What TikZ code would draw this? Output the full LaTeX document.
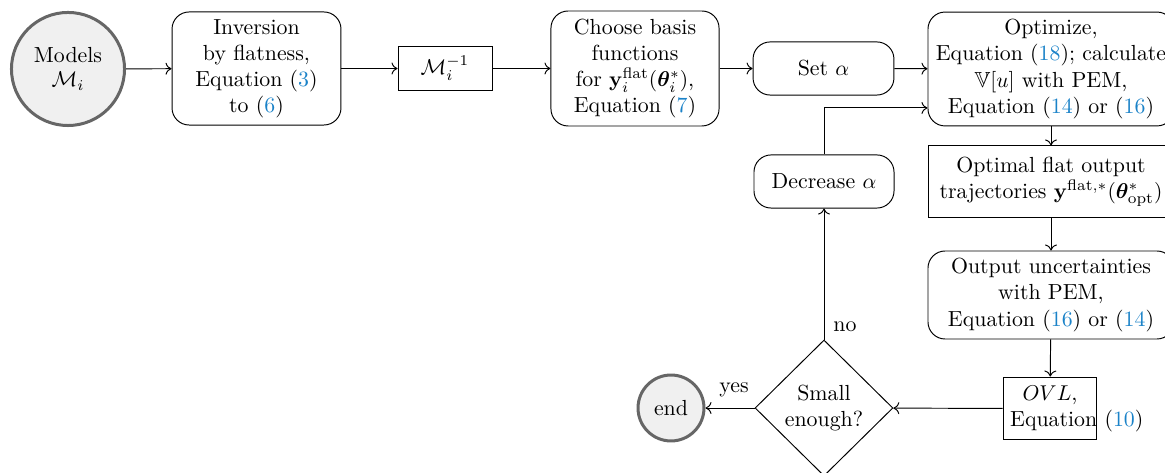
\documentclass[tikz,border=0pt]{standalone}
\usepackage{amsmath,amssymb,bm}
\usetikzlibrary{shapes.geometric,calc,arrows.meta}
\definecolor{refblue}{HTML}{1A82C8}
\newcommand{\rf}[1]{\textcolor{refblue}{#1}}
\tikzset{
  every node/.style={font=\fontsize{10.2}{12.2}\selectfont},
  endpoint/.style={circle,draw=black!60,line width=1.4pt,fill=black!6,inner sep=0pt,align=center},
  roundbox/.style={draw,line width=0.45pt,rounded corners=8pt,align=center,inner sep=2pt},
  sqbox/.style={draw,line width=0.45pt,align=center,inner sep=2pt},
  decision/.style={diamond,draw,line width=0.45pt,align=center,inner sep=0pt},
  flow/.style={line width=0.45pt,-{To[length=2.8pt,width=5.6pt]}},
  lbl/.style={inner sep=0pt,anchor=base}
}
\begin{document}
\begin{tikzpicture}[x=0.467pt,y=-0.467pt]
\useasboundingbox (0,0) rectangle (1165,473);
\clip (0,0) rectangle (1165,473);
\node[endpoint,minimum size=52.8pt] (models) at (68,69) {Models\\[-1pt]$\mathcal{M}_i$};
\node[roundbox,minimum width=78.9pt,minimum height=52.8pt] (inv) at (256.5,68.5)
  {Inversion\\by flatness,\\Equation~(\rf{3})\\to (\rf{6})};
\node[sqbox,minimum width=43.9pt,minimum height=21pt] (minv) at (445,68.5) {$\mathcal{M}_i^{-1}$};
\node[roundbox,minimum width=78.5pt,minimum height=53.7pt] (basis) at (635,68.5)
  {Choose basis\\functions\\for $\mathbf{y}_i^{\text{flat}}(\bm{\theta}_i^*)$,\\Equation~(\rf{7})};
\node[roundbox,minimum width=65.8pt,minimum height=24.8pt] (seta) at (823.5,68.5) {Set $\alpha$};
\node[roundbox,minimum width=114.9pt,minimum height=53.2pt] (opt) at (1051,69)
  {Optimize,\\Equation~(\rf{18}); calculate\\$\mathbb{V}[u]$ with PEM,\\Equation~(\rf{14}) or (\rf{16})};
\node[sqbox,minimum width=114.9pt,minimum height=33.2pt] (flat) at (1051,181.5)
  {Optimal flat output\\trajectories $\mathbf{y}^{\text{flat},*}(\bm{\theta}^*_{\text{opt}})$};
\node[roundbox,minimum width=114.9pt,minimum height=41.1pt] (unc) at (1051,295)
  {Output uncertainties\\with PEM,\\Equation~(\rf{16}) or (\rf{14})};
\node[draw,line width=0.45pt,text width=37.2pt,align=center,inner sep=3.33pt,minimum height=29.4pt] (ovl) at (1050,408.5)
  {$OVL$,\\Equation~(\rf{10})};
\node[decision,minimum width=64.4pt,minimum height=63.5pt] (small) at (824,408) {Small\\enough?};
\node[endpoint,minimum size=30.8pt] (end) at (671,408) {end};
\node[roundbox,minimum width=65.4pt,minimum height=24.8pt] (dec) at (824,181.5) {Decrease $\alpha$};
\node[lbl] (yeslbl) at (734,393) {yes};
\node[lbl] (nolbl) at (845,332) {no};

\draw[flow] (models) -- (inv);
\draw[flow] (inv) -- (minv);
\draw[flow] (minv) -- (basis);
\draw[flow] (basis) -- (seta);
\draw[flow] (seta) -- (opt);
\draw[flow] (opt) -- (flat);
\draw[flow] (flat) -- (unc);
\draw[flow] (unc) -- (ovl);
\draw[flow] (ovl) -- (small);
\draw[flow] (small) -- (end);
\draw[flow] (small.north) -- (dec.south);
\draw[flow] (dec.north) |- ([yshift=-18.2pt]opt.west);
\end{tikzpicture}
\end{document}
